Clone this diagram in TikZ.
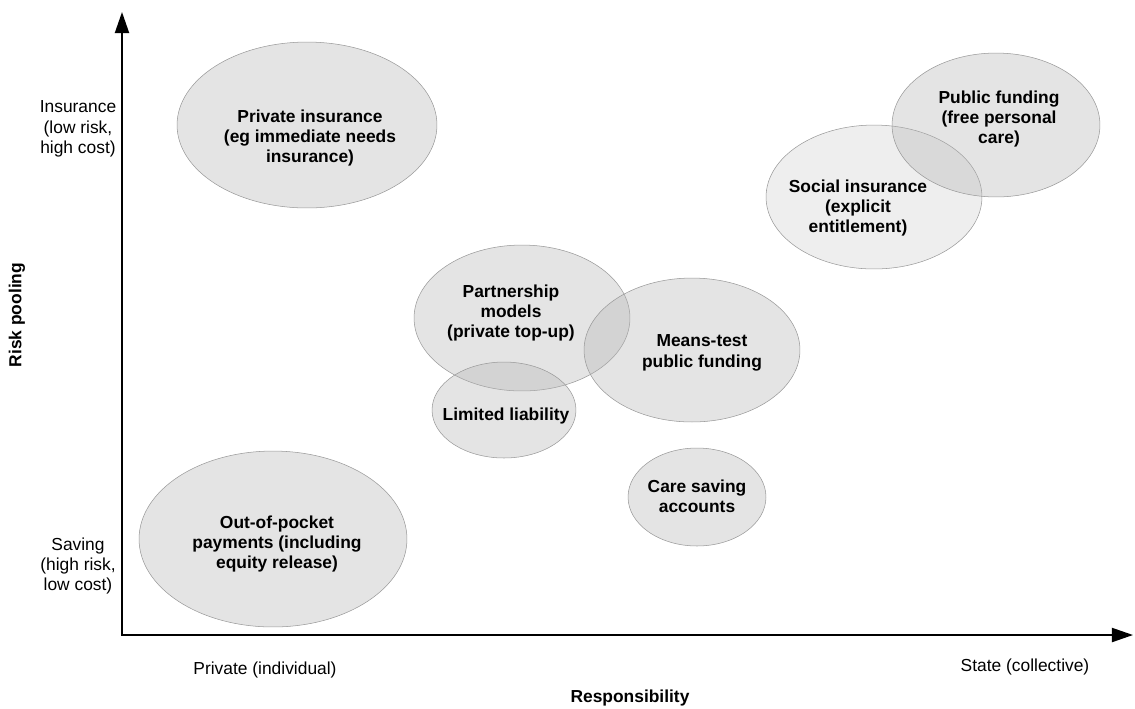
\documentclass[tikz,border=0pt]{standalone}
\usepackage{fontspec}
\setmainfont{Liberation Sans}
\usetikzlibrary{shapes.geometric,arrows.meta}

\begin{document}
\begin{tikzpicture}[x=0.02cm,y=-0.02cm,
        every node/.style={font=\fontsize{9.9}{11.6}\selectfont, align=center},
        blob/.style 2 args={ellipse, draw=gray!80, line width=0.3pt, fill=black!30, fill opacity=0.35, inner sep=0pt, minimum width=#1*0.04cm, minimum height=#2*0.04cm},
        tag/.style={font=\fontsize{9.9}{11.6}\selectfont\bfseries},
        axis/.style={line width=1.1pt, {Triangle[length=12pt,width=8pt]}-{Triangle[length=12pt,width=8pt]}}]
        \useasboundingbox (0,0) rectangle (1135,708);

        \coordinate (ytop) at (122,12);
        \coordinate (O) at (122,635);
        \coordinate (xend) at (1133,635);
        \draw[axis] (ytop) -- (O) -- (xend);

        \node[blob={130}{83}] (privins) at (307,125) {};
        \node[blob={134}{88}] (pocket) at (273,539) {};
        \node[blob={108}{73}] (partner) at (522,318) {};
        \node[blob={108}{72}] (means) at (692,350) {};
        \node[blob={72}{48}] (limited) at (504,410) {};
        \node[blob={69}{49}] (care) at (697,497) {};
        \node[blob={108}{72}, fill opacity=0.22] (social) at (874,197) {};
        \node[blob={104}{72}] (public) at (996,125) {};

        \node[tag] (privinsT) at (310,138) {Private insurance\\(eg immediate needs\\insurance)};
        \node[tag] (pocketT) at (277,544) {Out-of-pocket\\payments (including\\equity release)};
        \node[tag] (partnerT) at (511,313) {Partnership\\models\\(private top-up)};
        \node[tag] (meansT) at (702,353) {Means-test\\public funding};
        \node[tag] (limitedT) at (506,416) {Limited liability};
        \node[tag] (careT) at (697,496) {Care saving\\accounts};
        \node[tag] (socialT) at (858,208) {Social insurance\\(explicit\\entitlement)};
        \node[tag] (publicT) at (999,119) {Public funding\\(free personal\\care)};

        \node (insur) at (78,129) {Insurance\\(low risk,\\high cost)};
        \node (saving) at (78,566) {Saving\\(high risk,\\low cost)};
        \node (private) at (265,670) {Private (individual)};
        \node (state) at (1025,667) {State (collective)};

        \node[tag] (resp) at (630,698) {Responsibility};
        \node[tag, rotate=90] (pool) at (17,315) {Risk pooling};
    \end{tikzpicture}
\end{document}
